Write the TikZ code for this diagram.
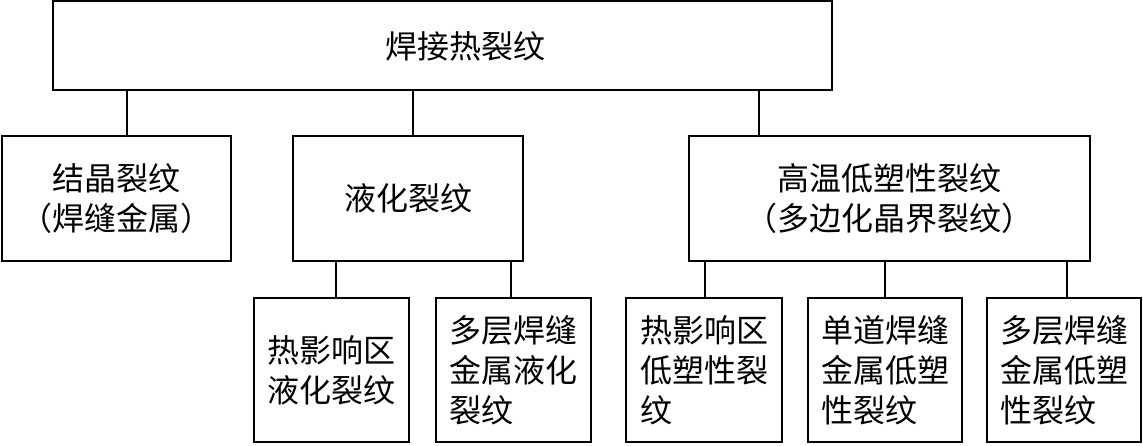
\documentclass[tikz,border=0pt]{standalone}
\usepackage{fontspec}
\setmainfont{Noto Sans CJK SC}
\begin{document}
\begin{tikzpicture}[x=0.5pt,y=-0.5pt,font=\fontsize{16}{20}\selectfont]
        \tikzstyle{crack}=[draw,line width=1pt,inner sep=0pt,align=center]
        \tikzstyle{leaf}=[crack,align=left,minimum height=72pt]
        \tikzstyle{link}=[line width=0.8pt]
        \useasboundingbox (0,0) rectangle (1143,445);
        % top level
        \node[crack,minimum width=389.5pt,minimum height=44.5pt] (top) at (442.5,45.5) {};
        \node (toptxt) at (465,46) {焊接热裂纹};
        % second level
        \node[crack,minimum width=114.5pt,minimum height=62.5pt] (jj) at (116.5,198.5) {结晶裂纹\\（焊缝金属）};
        \node[crack,minimum width=115pt,minimum height=62.5pt] (yh) at (408,198.5) {液化裂纹};
        \node[crack,minimum width=200.5pt,minimum height=62.5pt] (gw) at (889.5,198.5) {高温低塑性裂纹\\（多边化晶界裂纹）};
        \draw[link] (top.south -| 127,0) -- (jj.north -| 127,0);
        \draw[link] (top.south -| 413,0) -- (yh.north -| 413,0);
        \draw[link] (top.south -| 759,0) -- (gw.north -| 759,0);
        % third level
        \node[leaf,minimum width=77.5pt] (yh1) at (331.5,370) {热影响区\\液化裂纹};
        \node[leaf,minimum width=77.5pt] (yh2) at (513.5,370) {多层焊缝\\金属液化\\裂纹};
        \node[leaf,minimum width=78pt] (gw1) at (704,370) {热影响区\\低塑性裂\\纹};
        \node[leaf,minimum width=77pt] (gw2) at (885,370) {单道焊缝\\金属低塑\\性裂纹};
        \node[leaf,minimum width=77pt] (gw3) at (1064,370) {多层焊缝\\金属低塑\\性裂纹};
        \draw[link] (yh.south -| 336,0) -- (yh1.north -| 336,0);
        \draw[link] (yh.south -| 511,0) -- (yh2.north -| 511,0);
        \draw[link] (gw.south -| 705,0) -- (gw1.north -| 705,0);
        \draw[link] (gw.south -| 885,0) -- (gw2.north -| 885,0);
        \draw[link] (gw.south -| 1067,0) -- (gw3.north -| 1067,0);
\end{tikzpicture}
\end{document}
